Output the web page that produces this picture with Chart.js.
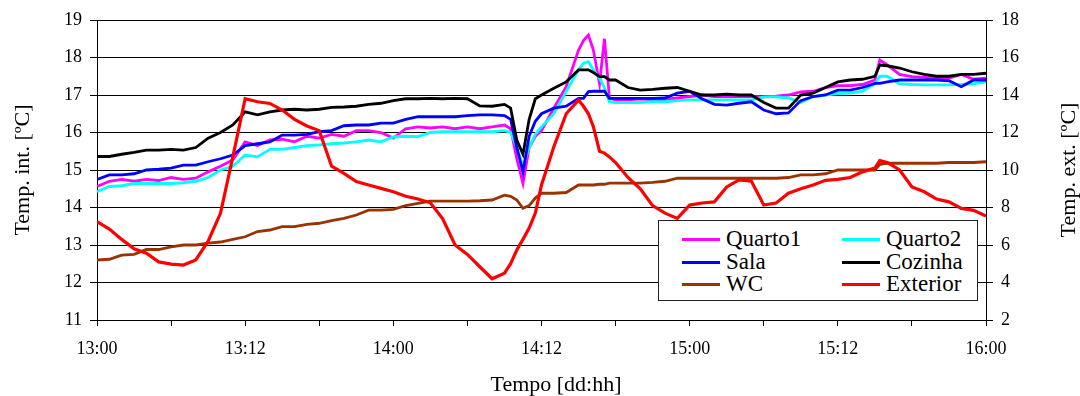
<!DOCTYPE html>
<html>
<head>
<meta charset="utf-8">
<script src="https://cdn.jsdelivr.net/npm/chart.js@4"></script>
<style>
  body { margin: 0; background: #fff; }
  #wrap { position: relative; width: 1080px; height: 396px; }
  #legend {
    position: absolute; left: 658px; top: 220px; width: 318px; height: 79px;
    border: 1px solid #222; background: #fff; box-sizing: content-box;
    font-family: "Liberation Serif", serif; font-size: 23px;
  }
  .item { position: absolute; height: 22px; line-height: 22px; white-space: nowrap; }
  .item i { position: absolute; top: 10px; width: 38px; height: 3px; }
  .item span { position: absolute; left: 44px; top: 0; }
</style>
</head>
<body>
<div id="wrap">
  <canvas id="chart" width="1080" height="396"></canvas>
  <div id="legend"></div>
</div>
<script>
// hours since 13:00 (day 13)
const hours = [
  0, 1, 2, 3, 4, 5, 6, 7, 8, 9,
  10, 11, 12, 13, 14, 15, 16, 17, 18, 19,
  20, 21, 22, 23, 24, 25, 26, 27, 28, 29,
  30, 31, 32, 33, 33.5, 34, 34.5, 35, 35.5, 36,
  37, 38, 39, 39.4, 39.8, 40.2, 40.7, 41.1, 41.5, 42,
  43, 44, 45, 46, 47, 48, 49, 50, 51, 52,
  53, 54, 55, 56, 57, 58, 59, 60, 61, 62,
  63, 63.4, 64, 65, 66, 67, 68, 69, 70, 71, 72
];

const quarto1 = [
  14.56, 14.7, 14.75, 14.7, 14.75, 14.72, 14.8, 14.75, 14.78, 14.95,
  15.1, 15.27, 15.75, 15.65, 15.8, 15.82, 15.75, 15.9, 15.85, 15.95,
  15.9, 16.05, 16.05, 16.0, 15.85, 16.1, 16.15, 16.12, 16.15, 16.1,
  16.15, 16.1, 16.15, 16.2, 16.1, 15.3, 14.64, 15.6, 15.9, 16.05,
  16.65, 17.22, 18.2, 18.45, 18.6, 18.2, 17.3, 18.5, 16.92, 16.87,
  16.87, 16.9, 16.87, 16.88, 16.92, 16.96, 17.0, 16.96, 16.96, 16.96,
  16.96, 16.95, 16.97, 17.0, 17.08, 17.1, 17.2, 17.25, 17.25, 17.28,
  17.4, 17.93, 17.8, 17.55, 17.49, 17.47, 17.45, 17.45, 17.55, 17.42, 17.45
];

const quarto2 = [
  14.42, 14.56, 14.58, 14.64, 14.64, 14.64, 14.64, 14.66, 14.7, 14.8,
  15.0, 15.1, 15.4, 15.35, 15.55, 15.55, 15.6, 15.65, 15.67, 15.7,
  15.72, 15.75, 15.8, 15.75, 15.88, 15.9, 15.89, 16.0, 16.02, 16.02,
  16.02, 16.02, 16.02, 16.05, 16.0, 15.6, 15.1, 15.6, 15.95, 16.15,
  16.5, 17.09, 17.67, 17.85, 17.89, 17.67, 17.45, 17.2, 16.82, 16.8,
  16.8, 16.8, 16.82, 16.82, 16.85, 16.87, 16.87, 16.87, 16.87, 16.87,
  16.87, 16.95, 16.95, 16.92, 16.8, 16.96, 17.0, 17.04, 17.05, 17.1,
  17.3, 17.5, 17.5, 17.3, 17.28, 17.27, 17.27, 17.27, 17.28, 17.3, 17.35
];

const sala = [
  14.75, 14.87, 14.87, 14.9, 15.0, 15.02, 15.05, 15.13, 15.13, 15.22,
  15.3, 15.4, 15.65, 15.7, 15.75, 15.93, 15.93, 15.95, 16.02, 16.05,
  16.18, 16.2, 16.2, 16.25, 16.25, 16.35, 16.42, 16.42, 16.42, 16.42,
  16.45, 16.47, 16.47, 16.45, 16.35, 15.6, 14.95, 15.9, 16.3, 16.5,
  16.65, 16.7, 16.91, 16.91, 17.09, 17.1, 17.1, 17.1, 16.91, 16.91,
  16.91, 16.91, 16.91, 16.92, 17.05, 17.1, 16.9, 16.75, 16.73, 16.78,
  16.82, 16.6, 16.5, 16.52, 16.85, 16.96, 17.0, 17.13, 17.13, 17.2,
  17.31, 17.31, 17.35, 17.4, 17.4, 17.4, 17.4, 17.38, 17.22, 17.4, 17.4
];

const cozinha = [
  15.36, 15.36, 15.42, 15.47, 15.53, 15.53, 15.55, 15.53, 15.6, 15.85,
  16.0, 16.2, 16.55, 16.47, 16.55, 16.6, 16.62, 16.6, 16.62, 16.67,
  16.68, 16.7, 16.75, 16.78, 16.85, 16.9, 16.9, 16.91, 16.9, 16.91,
  16.9, 16.71, 16.7, 16.75, 16.65, 15.8, 15.42, 16.35, 16.9, 17.0,
  17.18, 17.35, 17.67, 17.67, 17.67, 17.6, 17.49, 17.49, 17.4, 17.4,
  17.2, 17.13, 17.15, 17.18, 17.2, 17.1, 17.0, 17.0, 17.02, 17.0,
  17.0, 16.8, 16.65, 16.65, 17.0, 17.05, 17.2, 17.35, 17.4, 17.42,
  17.5, 17.8, 17.78, 17.72, 17.62, 17.55, 17.5, 17.5, 17.55, 17.55, 17.58
];

const wc = [
  12.6, 12.62, 12.73, 12.75, 12.88, 12.88, 12.95, 13.0, 13.0, 13.05,
  13.08, 13.15, 13.22, 13.36, 13.4, 13.49, 13.49, 13.55, 13.58, 13.65,
  13.71, 13.8, 13.93, 13.93, 13.95, 14.05, 14.11, 14.17, 14.17, 14.17,
  14.17, 14.18, 14.2, 14.33, 14.3, 14.2, 13.98, 14.05, 14.25, 14.38,
  14.38, 14.4, 14.6, 14.6, 14.6, 14.6, 14.62, 14.62, 14.65, 14.65,
  14.65, 14.65, 14.67, 14.7, 14.78, 14.78, 14.78, 14.78, 14.78, 14.78,
  14.78, 14.78, 14.78, 14.8, 14.87, 14.87, 14.9, 15.0, 15.0, 15.0,
  15.0, 15.15, 15.18, 15.18, 15.18, 15.18, 15.18, 15.2, 15.2, 15.2, 15.22
];

// right axis
const exterior = [
  7.24, 6.85, 6.3, 5.8, 5.56, 5.1, 4.98, 4.93, 5.2, 6.2,
  7.69, 10.7, 13.8, 13.64, 13.55, 13.2, 12.7, 12.35, 12.1, 10.2,
  9.82, 9.38, 9.2, 9.02, 8.84, 8.6, 8.45, 8.25, 7.4, 6.0,
  5.5, 4.84, 4.2, 4.5, 5.0, 5.73, 6.3, 6.9, 7.7, 9.2,
  11.24, 13.0, 13.73, 13.4, 13.0, 12.31, 11.0, 10.9, 10.7, 10.4,
  9.6, 9.0, 8.1, 7.7, 7.42, 8.13, 8.24, 8.3, 9.1, 9.47,
  9.4, 8.13, 8.24, 8.76, 9.0, 9.2, 9.45, 9.5, 9.6, 9.9,
  10.1, 10.5, 10.4, 10.0, 9.1, 8.84, 8.45, 8.3, 7.95, 7.85, 7.55
];

const series = [
  { label: "Quarto1", data: quarto1, color: "#ff00ff", axis: "y" },
  { label: "Quarto2", data: quarto2, color: "#00ffff", axis: "y" },
  { label: "Sala", data: sala, color: "#0000ff", axis: "y" },
  { label: "Cozinha", data: cozinha, color: "#000000", axis: "y" },
  { label: "WC", data: wc, color: "#993300", axis: "y" },
  { label: "Exterior", data: exterior, color: "#ff0000", axis: "y1" },
];

const serif = "'Liberation Serif', 'Times New Roman', serif";

const datasets = series.map((s, i) => ({
  label: s.label,
  data: s.data.map((v, j) => ({ x: hours[j], y: v })),
  borderColor: s.color,
  borderWidth: s.label === "Exterior" ? 3.2 : 2.8,
  pointRadius: 0,
  tension: 0,
  fill: false,
  yAxisID: s.axis,
  order: series.length - i,
}));

// axis titles drawn by hand so the right one reads upwards like the left one
const axisTitles = {
  id: "axisTitles",
  afterDraw(chart) {
    const ctx = chart.ctx;
    ctx.save();
    ctx.font = "22px " + serif;
    ctx.fillStyle = "#000";
    ctx.textAlign = "center";
    ctx.textBaseline = "middle";
    ctx.fillText("Tempo [dd:hh]", 556, 385);
    for (const [x, text] of [[23, "Temp. int. [ºC]"], [1069, "Temp. ext. [ºC]"]]) {
      ctx.save();
      ctx.translate(x, 170);
      ctx.rotate(-Math.PI / 2);
      ctx.fillText(text, 0, 0);
      ctx.restore();
    }
    ctx.restore();
  },
};

const tickFont = { family: serif, size: 18 };

new Chart(document.getElementById("chart"), {
  type: "line",
  data: { datasets },
  options: {
    responsive: false,
    animation: false,
    layout: { padding: { top: 20, left: 0, right: 0, bottom: 0 } },
    plugins: { legend: { display: false }, tooltip: { enabled: false } },
    scales: {
      x: {
        type: "linear",
        min: 0,
        max: 72,
        afterFit: (scale) => { scale.height = 76; },
        grid: { drawOnChartArea: false, color: "#000", tickLength: 6 },
        border: { color: "#000", width: 1 },
        ticks: {
          stepSize: 6,
          autoSkip: false,
          maxRotation: 0,
          color: "#000",
          font: tickFont,
          padding: 12,
          callback: (v) => {
            if (v % 12 !== 0) return "";
            const day = 13 + Math.floor(v / 24);
            const hh = v % 24;
            return day + ":" + String(hh).padStart(2, "0");
          },
        },
      },
      y: {
        position: "left",
        min: 11,
        max: 19,
        afterFit: (scale) => { scale.width = 97; },
        grid: { color: "#000", tickLength: 7 },
        border: { color: "#000", width: 1 },
        ticks: { stepSize: 1, color: "#000", font: tickFont, padding: 8 },
      },
      y1: {
        position: "right",
        min: 2,
        max: 18,
        afterFit: (scale) => { scale.width = 94; },
        grid: { drawOnChartArea: false, color: "#000", tickLength: 7 },
        border: { color: "#000", width: 1 },
        ticks: { stepSize: 2, color: "#000", font: tickFont, padding: 8 },
      },
    },
  },
  plugins: [axisTitles],
});

// legend box, two columns
const legend = document.getElementById("legend");
series.forEach((s, i) => {
  const item = document.createElement("div");
  item.className = "item";
  item.style.left = (i % 2 === 0 ? 23 : 183) + "px";
  item.style.top = (7 + Math.floor(i / 2) * 22.5) + "px";
  item.innerHTML = '<i style="background:' + s.color + '"></i><span>' + s.label + "</span>";
  legend.appendChild(item);
});
</script>
</body>
</html>
